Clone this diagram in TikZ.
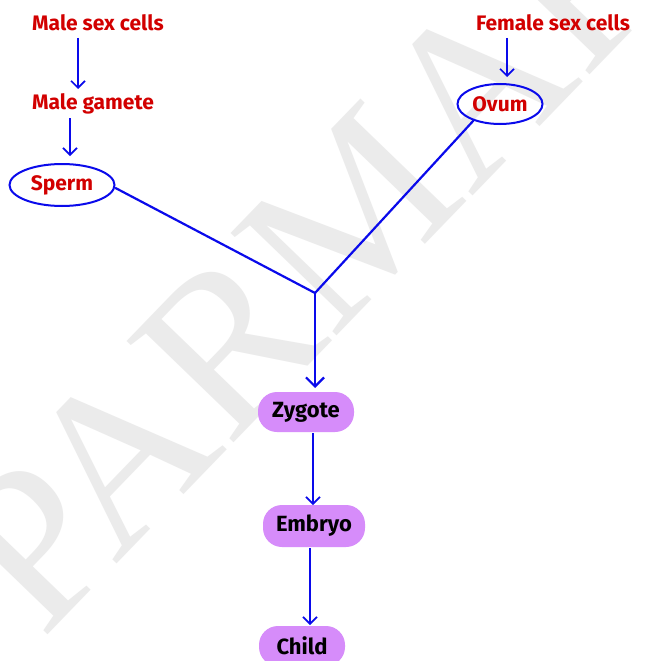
\documentclass[tikz,border=0pt]{standalone}
\usepackage{fontspec}
\setmainfont{Fira Sans}
\newfontfamily\markfont{Liberation Serif}
\usetikzlibrary{arrows.meta,shapes.geometric}
\definecolor{labelred}{RGB}{210,0,0}
\definecolor{flowblue}{RGB}{10,10,235}
\definecolor{stagefill}{RGB}{214,140,250}
\tikzset{
  x=1pt, y=-1pt,
  redlabel/.style={text=labelred, font=\fontsize{21}{23}\selectfont\bfseries, inner sep=0pt},
  cellring/.style={ellipse, draw=flowblue, line width=2pt, text=labelred,
    font=\fontsize{21}{23}\selectfont\bfseries, inner sep=0pt},
  stagebox/.style={rounded corners=19pt, fill=stagefill, text=black,
    font=\fontsize{22}{24}\selectfont\bfseries, inner sep=0pt},
  smallarrow/.style={draw=flowblue, line width=1.6pt, -{Straight Barb[length=7pt,width=14pt,line width=1.6pt]}},
  bigarrow/.style={draw=flowblue, line width=2.2pt, -{Straight Barb[length=9pt,width=18pt,line width=2.2pt]}},
  branch/.style={draw=flowblue, line width=2.2pt, line cap=round}
}
\begin{document}
\begin{tikzpicture}
\useasboundingbox (0,0) rectangle (645,661);
\fill[white] (0,0) rectangle (645,661);
% faint background mark
\node[text=black!8, font=\markfont\fontsize{225}{225}\selectfont, rotate=46, inner sep=0pt]
  (mark) at (312,255) {PARMAR};

% male side
\node[redlabel] (msc) at (98,23) {Male sex cells};
\node[redlabel] (mg) at (93,104) {Male gamete};
\node[cellring, minimum width=105pt, minimum height=42pt] (sperm) at (62,185) {Sperm};
% female side
\node[redlabel] (fsc) at (553,23) {Female sex cells};
\node[cellring, minimum width=85pt, minimum height=40pt] (ovum) at (500,104) {Ovum};

\coordinate (j) at (315,293);

% development stages
\node[stagebox, minimum width=96pt, minimum height=40pt] (zyg) at (306,412) {Zygote};
\node[stagebox, minimum width=102pt, minimum height=42pt] (emb) at (314,526) {Embryo};
\node[stagebox, minimum width=86pt, minimum height=40pt] (child) at (302,646) {Child};

% connectors
\draw[smallarrow] (78,38) -- (78,89);
\draw[smallarrow] (70,118) -- (70,156);
\draw[smallarrow] (507,38) -- (507,77);
\draw[branch] (sperm.east) ++(0,3) -- (j);
\draw[branch] (ovum.south west) ++(4,2) -- (j);
\draw[bigarrow] (j) -- (315,388);
\draw[smallarrow] (313,433) -- (313,505);
\draw[smallarrow] (310,548) -- (310,625);
\end{tikzpicture}
\end{document}
